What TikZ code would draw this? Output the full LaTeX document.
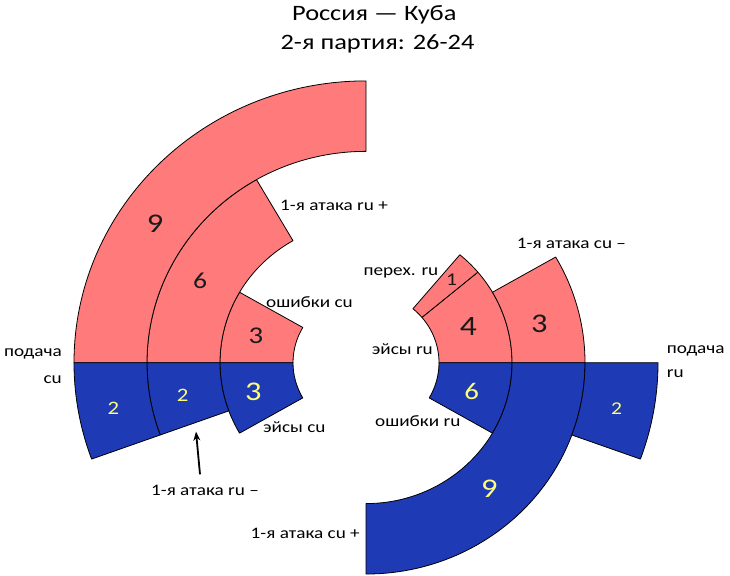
\documentclass[tikz,border=0pt]{standalone}
\usepackage{fontspec}
\setmainfont{Carlito}[FakeStretch=1.2]
\usetikzlibrary{arrows.meta}
\definecolor{rosso}{HTML}{FF7A7A}
\definecolor{blu}{HTML}{1F3AB5}
\definecolor{giallo}{HTML}{FFFF77}
\definecolor{inchiostro}{HTML}{1A1A1A}
\newcommand{\ringsector}[5]{%
  \draw[edge,fill=#5] (#3:#1) arc[start angle=#3,end angle=#4,radius=#1]
    -- (#4:#2) arc[start angle=#4,end angle=#3,radius=#2] -- cycle;}
\newcommand{\fs}[1]{\fontsize{#1}{#1}\selectfont}
\begin{document}
\begin{tikzpicture}[x=1pt,y=1pt,
  edge/.style={draw=black,line width=0.8pt,line join=round},
  lbl/.style={inner sep=0pt,text=black,font=\fs{16}},
  numr/.style={inner sep=0pt,text=inchiostro},
  numb/.style={inner sep=0pt,text=giallo},
  ttl/.style={inner sep=0pt,text=black,font=\fs{22}},
  arr/.style={line width=1.8pt,-{Stealth[length=9pt,width=7pt]}}]
\useasboundingbox (0,0) rectangle (730,575);
\fill[white] (0,0) rectangle (730,575);
\begin{scope}[shift={(366,212.3)},yscale=0.965]
  % left half (Cuba serving)
  \ringsector{73}{146}{150}{180}{rosso}
  \ringsector{146}{219}{120}{180}{rosso}
  \ringsector{219}{292}{90}{180}{rosso}
  \ringsector{73}{146}{180}{210}{blu}
  \ringsector{146}{219}{180}{200}{blu}
  \ringsector{219}{292}{180}{200}{blu}
  % right half (Russia serving)
  \ringsector{73}{146}{0}{40}{rosso}
  \ringsector{73}{146}{40}{50}{rosso}
  \ringsector{146}{219}{0}{30}{rosso}
  \ringsector{73}{146}{-30}{0}{blu}
  \ringsector{146}{219}{-90}{0}{blu}
  \ringsector{219}{292}{-20}{0}{blu}
\end{scope}
% numbers
\node[numr,font=\fs{27}] (n9l) at (155,351.7) {9};
\node[numr,font=\fs{23}] (n6l) at (200,294.3) {6};
\node[numr,font=\fs{24}] (n3l) at (256,239) {3};
\node[numb,font=\fs{19}] (b2o) at (113.3,166.7) {2};
\node[numb,font=\fs{19}] (b2m) at (182.7,180) {2};
\node[numb,font=\fs{27}] (b3i) at (253.3,183.3) {3};
\node[numr,font=\fs{18}] (n1r) at (451.7,295) {1};
\node[numr,font=\fs{28}] (n4r) at (468.3,248.3) {4};
\node[numr,font=\fs{27}] (n3r) at (539.3,250.7) {3};
\node[numb,font=\fs{24}] (b6r) at (471.7,183.3) {6};
\node[numb,font=\fs{27}] (b9r) at (489.3,86.7) {9};
\node[numb,font=\fs{18}] (b2r) at (616.7,166.7) {2};
% labels
\node[lbl,anchor=base west] (l1) at (280,364.3) {1-я атака ru +};
\node[lbl,anchor=base west] (l2) at (266,267.7) {ошибки cu};
\node[lbl,anchor=base west] (l3) at (263,142.7) {эйсы cu};
\node[lbl,anchor=base west] (l4) at (363.3,299.3) {перех. ru};
\node[lbl,anchor=base west] (l5) at (371.7,220.7) {эйсы ru};
\node[lbl,anchor=base west] (l6) at (375,148.3) {ошибки ru};
\node[lbl,anchor=base west] (l7) at (516.7,326.7) {1-я атака cu –};
\node[lbl,anchor=base west] (l8a) at (666.7,221.7) {подача};
\node[lbl,anchor=base west] (l8b) at (666.7,197.7) {ru};
\node[lbl,anchor=base east] (l9a) at (62,218.3) {подача};
\node[lbl,anchor=base east] (l9b) at (62,191.7) {cu};
\node[lbl,anchor=base] (l10) at (205,79) {1-я атака ru –};
\node[lbl,anchor=base east] (l11) at (360,36.7) {1-я атака cu +};
% title
\node[ttl,anchor=base] (t1) at (374.2,554.3) {Россия — Куба};
\node[ttl,anchor=base] (t2) at (377.5,525) {2-я партия: 26-24};
% arrow
\coordinate (atail) at (200,100.7);
\coordinate (atip) at (196,143.3);
\draw[arr] (atail) -- (atip);
\end{tikzpicture}
\end{document}
